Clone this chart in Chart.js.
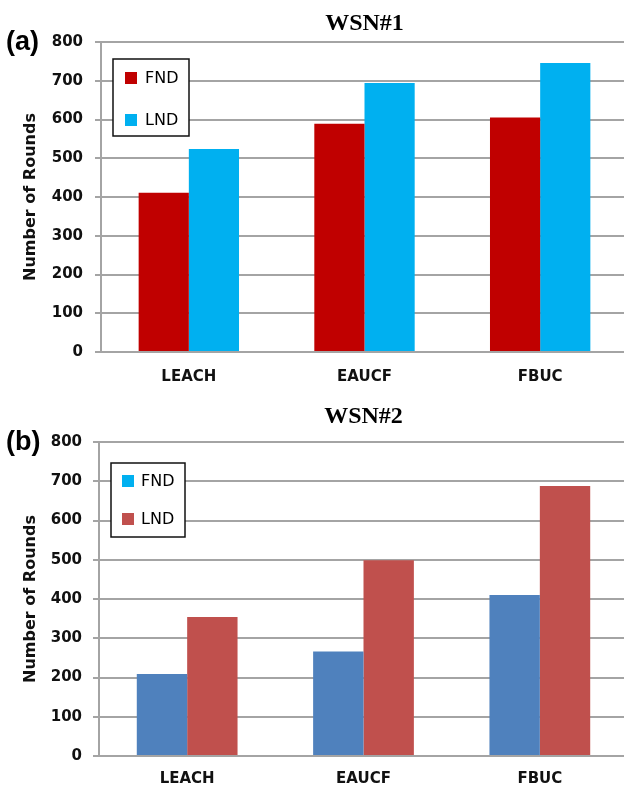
<!DOCTYPE html>
<html>
<head>
<meta charset="utf-8">
<script src="https://cdn.jsdelivr.net/npm/chart.js@4.4.0/dist/chart.umd.min.js"></script>
<style>
  html, body { margin: 0; padding: 0; background: #fff; overflow: hidden; }
  .panel { position: absolute; left: 0; width: 628px; height: 393px; }
  #panelA { top: 0; }
  #panelB { top: 393px; }
</style>
</head>
<body>
<div class="panel" id="panelA"><canvas id="chartA"></canvas></div>
<div class="panel" id="panelB"><canvas id="chartB"></canvas></div>
<script>
// data
const categories = ['LEACH', 'EAUCF', 'FBUC'];
const seriesNames = ['FND', 'LND'];
const wsn1FND = [411, 589, 605];
const wsn1LND = [524, 694, 746];
const wsn2FND = [209, 266, 410];
const wsn2LND = [354, 499, 688];
const yTicks = [0, 100, 200, 300, 400, 500, 600, 700, 800];

const gridGray = '#a4a4a4';
const tickFont = { family: 'DejaVu Sans', size: 15, weight: 'bold' };

// title, panel letter and the boxed legend drawn inside the plot
const panelDecor = {
  id: 'panelDecor',
  afterDraw(chart, args, opts) {
    const { ctx, chartArea } = chart;
    ctx.save();
    ctx.fillStyle = '#000';
    ctx.textBaseline = 'middle';
    ctx.textAlign = 'center';
    ctx.font = 'bold 24px "Liberation Serif"';
    ctx.fillText(opts.title, (chartArea.left + chartArea.right) / 2, opts.titleY);

    ctx.textAlign = 'left';
    ctx.font = 'bold 27px "Liberation Sans"';
    ctx.fillText(opts.letter, 6, opts.letterY);

    const bx = chartArea.left + opts.boxDx;
    const by = chartArea.top + opts.boxDy;
    ctx.fillStyle = '#fff';
    ctx.fillRect(bx, by, opts.boxW, opts.boxH);
    ctx.strokeStyle = '#111';
    ctx.lineWidth = 1.5;
    ctx.strokeRect(bx, by, opts.boxW, opts.boxH);

    ctx.font = '500 16px "DejaVu Sans"';
    chart.data.datasets.forEach((ds, i) => {
      const sy = by + opts.rowY[i];
      ctx.fillStyle = opts.swatch[i];
      ctx.fillRect(bx + opts.swX, sy, 12, 12);
      ctx.fillStyle = '#000';
      ctx.fillText(ds.label, bx + opts.txtX, sy + 7);
    });
    ctx.restore();
  }
};

function makeChart(id, fnd, lnd, colors, decor, geo) {
  return new Chart(document.getElementById(id), {
    type: 'bar',
    data: {
      labels: categories,
      datasets: [
        { label: seriesNames[0], data: fnd, backgroundColor: colors[0], borderWidth: 0 },
        { label: seriesNames[1], data: lnd, backgroundColor: colors[1], borderWidth: 0 }
      ]
    },
    options: {
      responsive: true,
      maintainAspectRatio: false,
      animation: false,
      layout: { padding: { top: geo.top, left: 0, right: 0, bottom: 0 } },
      datasets: { bar: { barPercentage: 1, categoryPercentage: 0.5714 } },
      plugins: {
        legend: { display: false },
        tooltip: { enabled: false },
        panelDecor: decor
      },
      scales: {
        x: {
          afterFit: s => { s.height = geo.xHeight; },
          grid: { display: false },
          border: { display: true, color: gridGray, width: 2 },
          ticks: { color: '#111', font: tickFont, padding: geo.xPad }
        },
        y: {
          min: 0,
          max: 800,
          afterFit: s => { s.width = geo.left; },
          afterBuildTicks: s => { s.ticks = yTicks.map(v => ({ value: v })); },
          grid: { color: gridGray, lineWidth: 2, tickLength: 6, drawTicks: true },
          border: { display: true, color: gridGray, width: 2 },
          ticks: { color: '#111', font: tickFont, padding: geo.yPad },
          title: {
            display: true,
            text: 'Number of Rounds',
            color: '#111',
            font: { family: 'DejaVu Sans', size: 16, weight: 'bold' },
            padding: { top: 21, bottom: 0 }
          }
        }
      }
    },
    plugins: [panelDecor]
  });
}

makeChart('chartA', wsn1FND, wsn1LND, ['#c00000', '#00b0f0'],
  { title: 'WSN#1', titleY: 24, letter: '(a)', letterY: 43,
    boxDx: 12, boxDy: 17, boxW: 76, boxH: 77, swX: 12, txtX: 32, rowY: [13, 55],
    swatch: ['#c00000', '#00b0f0'] },
  { top: 42, xHeight: 41, left: 101, xPad: 8, yPad: 12 });

makeChart('chartB', wsn2FND, wsn2LND, ['#4f81bd', '#c0504d'],
  { title: 'WSN#2', titleY: 24, letter: '(b)', letterY: 50,
    boxDx: 12, boxDy: 21, boxW: 74, boxH: 74, swX: 11, txtX: 30, rowY: [12, 50],
    swatch: ['#00b0f0', '#c0504d'] },
  { top: 49, xHeight: 30, left: 99, xPad: 6, yPad: 11 });
</script>
</body>
</html>
